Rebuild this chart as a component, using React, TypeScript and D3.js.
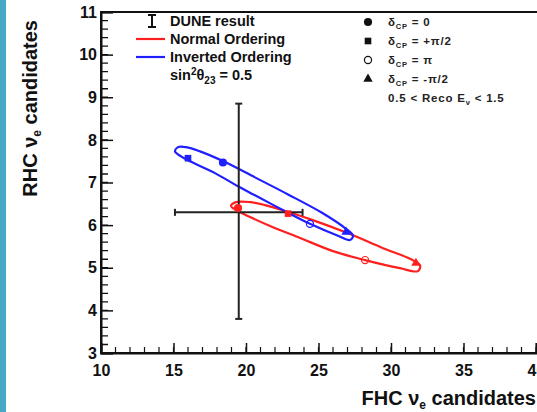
import React, { useEffect, useRef } from "react";
import * as d3 from "d3";

// axis ticks
const xMajor = [10, 15, 20, 25, 30, 35, 40];
const xMinor = d3.range(10, 41, 1);
const yMajor = [3, 4, 5, 6, 7, 8, 9, 10, 11];
const yMinor = d3.range(0, 41).map(i => 3 + i * 0.2);

// DUNE result with errors
const duneX = 19.5;
const duneY = 6.3;
const duneXErr = [15.1, 23.9];
const duneYErr = [3.8, 8.85];

// Normal ordering contour
const noLoopX = [18.97, 19.31, 20.28, 21.31, 22.69, 24.41, 27.17, 29.45, 31.31, 32.0, 31.86, 30.62, 28.21, 26.0, 23.72, 21.66, 20.28, 19.45];
const noLoopY = [6.45, 6.54, 6.54, 6.47, 6.33, 6.14, 5.79, 5.46, 5.21, 5.06, 4.92, 4.99, 5.18, 5.39, 5.7, 5.98, 6.19, 6.33];

// Inverted ordering contour
const ioLoopX = [15.1, 15.31, 15.86, 16.83, 18.55, 20.62, 22.9, 25.24, 26.83, 27.38, 27.17, 26.34, 24.41, 22.9, 20.62, 19.45, 17.86, 16.0, 15.31];
const ioLoopY = [7.73, 7.83, 7.83, 7.73, 7.48, 7.12, 6.72, 6.29, 5.93, 5.75, 5.65, 5.75, 6.03, 6.29, 6.7, 6.91, 7.22, 7.52, 7.66];

// delta_CP markers: 0, +pi/2, pi, -pi/2
const deltaLabels = ["0", "+\u03c0/2", "\u03c0", "-\u03c0/2"];
const noMarkX = [19.45, 22.9, 28.21, 31.72];
const noMarkY = [6.4, 6.27, 5.18, 5.11];
const ioMarkX = [18.41, 16.0, 24.41, 26.9];
const ioMarkY = [7.47, 7.57, 6.03, 5.84];

const RED = "#ff1f1f";
const BLUE = "#2020ff";
const FONT = "'Liberation Sans', Arial, Helvetica, sans-serif";

const markerTypes = [d3.symbolCircle, d3.symbolSquare, d3.symbolCircle, d3.symbolTriangle];
const markerSizes = [52, 44, 40, 38];
const markerFilled = [true, true, false, true];

export default function App() {
  const svgRef = useRef<SVGSVGElement>(null);
  const width = 537;
  const height = 412;

  useEffect(() => {
    document.body.style.margin = "0";
    const svg = d3.select(svgRef.current);
    svg.selectAll("*").remove();

    const x = d3.scaleLinear().domain([10, 40]).range([101, 536]);
    const y = d3.scaleLinear().domain([3, 11]).range([353, 12]);

    // left blue stripe
    svg.append("rect").attr("x", 0).attr("y", 0).attr("width", 6).attr("height", height).attr("fill", "#48a8c6");

    // frame
    svg.append("rect")
      .attr("x", x(10)).attr("y", y(11))
      .attr("width", x(40) - x(10) + 2).attr("height", y(3) - y(11))
      .attr("fill", "none").attr("stroke", "#111").attr("stroke-width", 2);

    // minor ticks, drawn as one path each
    const px = d3.path();
    xMinor.forEach(v => { px.moveTo(x(v), y(3)); px.lineTo(x(v), y(3) - 6); });
    svg.append("path").attr("d", px.toString()).attr("stroke", "#111").attr("stroke-width", 1.2).attr("fill", "none");
    const py = d3.path();
    yMinor.forEach(v => { py.moveTo(x(10), y(v)); py.lineTo(x(10) + 7, y(v)); });
    svg.append("path").attr("d", py.toString()).attr("stroke", "#111").attr("stroke-width", 1.3).attr("fill", "none");

    const styleAxis = (g: any) => {
      g.select(".domain").attr("stroke-width", 2).attr("stroke", "#111");
      g.selectAll(".tick line").attr("stroke", "#111").attr("stroke-width", 1.5);
      g.selectAll("text")
        .attr("font-family", FONT).attr("font-weight", "bold").attr("font-size", 16).attr("fill", "#111");
    };

    // x axis
    const gx = svg.append("g").attr("transform", `translate(0,${y(3)})`);
    gx.call(d3.axisBottom(x).tickValues(xMajor).tickSize(-10).tickPadding(12).tickFormat(d3.format("d")));
    styleAxis(gx);

    // y axis
    const gy = svg.append("g").attr("transform", `translate(${x(10)},0)`);
    gy.call(d3.axisLeft(y).tickValues(yMajor).tickSize(-12).tickPadding(4).tickFormat(d3.format("d")));
    styleAxis(gy);

    // contours
    const line = d3.line<number>().curve(d3.curveCatmullRomClosed.alpha(0.5));
    const drawLoop = (xs: number[], ys: number[], color: string) => {
      svg.append("path")
        .datum(xs.map((v, i) => [x(v), y(ys[i])]) as any)
        .attr("d", line as any)
        .attr("fill", "none").attr("stroke", color).attr("stroke-width", 2.2);
    };
    drawLoop(noLoopX, noLoopY, RED);
    drawLoop(ioLoopX, ioLoopY, BLUE);

    // error bar
    const eb = svg.append("g").attr("stroke", "#222").attr("stroke-width", 2);
    eb.append("line").attr("x1", x(duneX)).attr("x2", x(duneX)).attr("y1", y(duneYErr[0])).attr("y2", y(duneYErr[1]));
    eb.append("line").attr("x1", x(duneXErr[0])).attr("x2", x(duneXErr[1])).attr("y1", y(duneY)).attr("y2", y(duneY));
    [duneYErr[0], duneYErr[1]].forEach(v =>
      eb.append("line").attr("x1", x(duneX) - 3.5).attr("x2", x(duneX) + 3.5).attr("y1", y(v)).attr("y2", y(v)));
    [duneXErr[0], duneXErr[1]].forEach(v =>
      eb.append("line").attr("x1", x(v)).attr("x2", x(v)).attr("y1", y(duneY) - 3.5).attr("y2", y(duneY) + 3.5));

    // markers
    const drawMarks = (xs: number[], ys: number[], color: string) => {
      xs.forEach((v, i) => {
        svg.append("path")
          .attr("d", d3.symbol().type(markerTypes[i]).size(markerSizes[i])() as string)
          .attr("transform", `translate(${x(v)},${y(ys[i])})`)
          .attr("fill", markerFilled[i] ? color : "none")
          .attr("stroke", color).attr("stroke-width", markerFilled[i] ? 0 : 1.2);
      });
    };
    drawMarks(noMarkX, noMarkY, RED);
    drawMarks(ioMarkX, ioMarkY, BLUE);

    // left legend
    const lg = svg.append("g").attr("font-family", FONT).attr("font-weight", "bold").attr("font-size", 14.5).attr("fill", "#111");
    const iSym = svg.append("g").attr("stroke", "#111").attr("stroke-width", 2);
    iSym.append("line").attr("x1", 152).attr("x2", 152).attr("y1", 15).attr("y2", 27);
    iSym.append("line").attr("x1", 148).attr("x2", 156).attr("y1", 15).attr("y2", 15);
    iSym.append("line").attr("x1", 148).attr("x2", 156).attr("y1", 27).attr("y2", 27);
    lg.append("text").attr("x", 170).attr("y", 26).text("DUNE result");
    svg.append("line").attr("x1", 136).attr("x2", 165).attr("y1", 39).attr("y2", 39).attr("stroke", RED).attr("stroke-width", 2.2);
    lg.append("text").attr("x", 170).attr("y", 44).text("Normal Ordering");
    svg.append("line").attr("x1", 136).attr("x2", 165).attr("y1", 57).attr("y2", 57).attr("stroke", BLUE).attr("stroke-width", 2.2);
    lg.append("text").attr("x", 170).attr("y", 62).text("Inverted Ordering");
    const s = lg.append("text").attr("x", 170).attr("y", 80);
    s.append("tspan").text("sin");
    s.append("tspan").attr("dy", -5).attr("font-size", 10).text("2");
    s.append("tspan").attr("dy", 5).text("\u03b8");
    s.append("tspan").attr("dy", 4).attr("font-size", 10).text("23");
    s.append("tspan").attr("dy", -4).text(" = 0.5");

    // right legend
    const rg = svg.append("g").attr("font-family", FONT).attr("font-weight", "bold").attr("font-size", 11.5)
      .attr("letter-spacing", 0.8).attr("fill", "#222");
    const rowY = [22, 41, 60, 79];
    deltaLabels.forEach((lab, i) => {
      svg.append("path")
        .attr("d", d3.symbol().type(markerTypes[i]).size(markerSizes[i])() as string)
        .attr("transform", `translate(368,${rowY[i]})`)
        .attr("fill", markerFilled[i] ? "#111" : "none")
        .attr("stroke", "#111").attr("stroke-width", markerFilled[i] ? 0 : 1.2);
      const t = rg.append("text").attr("x", 388).attr("y", rowY[i] + 4);
      t.append("tspan").text("\u03b4");
      t.append("tspan").attr("dy", 3).attr("font-size", 7.5).text("CP");
      t.append("tspan").attr("dy", -3).text(" = " + lab);
    });
    const r = rg.append("text").attr("x", 388).attr("y", 102);
    r.append("tspan").text("0.5 < Reco E");
    r.append("tspan").attr("dy", 3).attr("font-size", 7.5).text("\u03bd");
    r.append("tspan").attr("dy", -3).text(" < 1.5");

    // axis titles
    const tx = svg.append("text").attr("x", 536).attr("y", 405).attr("text-anchor", "end")
      .attr("font-family", FONT).attr("font-weight", "bold").attr("font-size", 20).attr("fill", "#111");
    tx.append("tspan").text("FHC  \u03bd");
    tx.append("tspan").attr("dy", 4).attr("font-size", 12).text("e");
    tx.append("tspan").attr("dy", -4).text(" candidates");

    const ty = svg.append("text").attr("transform", "translate(37,20) rotate(-90)").attr("text-anchor", "end")
      .attr("font-family", FONT).attr("font-weight", "bold").attr("font-size", 20).attr("fill", "#111");
    ty.append("tspan").text("RHC  \u03bd");
    ty.append("tspan").attr("dy", 4).attr("font-size", 12).text("e");
    ty.append("tspan").attr("dy", -4).text(" candidates");
  }, []);

  return (
    <svg ref={svgRef} width={width} height={height} style={{ position: "absolute", left: 0, top: 0, background: "#fff" }} />
  );
}
